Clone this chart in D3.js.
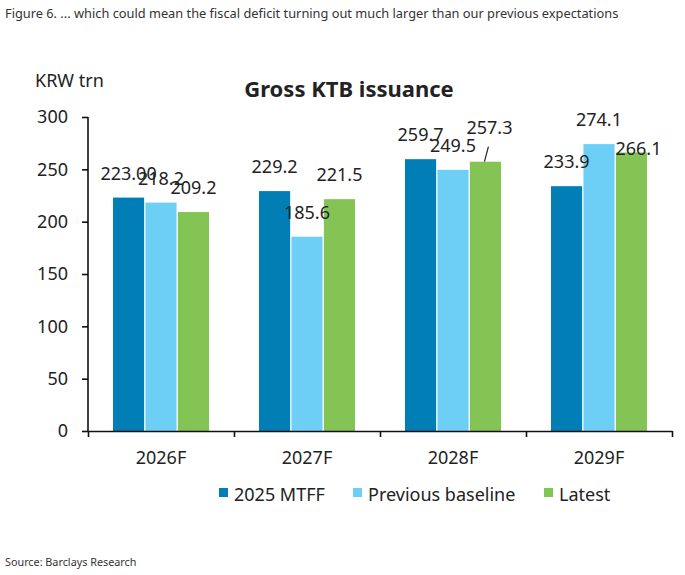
<!DOCTYPE html>
<html>
<head>
<meta charset="utf-8">
<script src="https://cdn.jsdelivr.net/npm/d3@7"></script>
<style>
  body { margin: 0; background: #fff; }
  svg text { font-family: "Noto Sans", "Open Sans", sans-serif; fill: #222; }
</style>
</head>
<body>
<div id="chart"></div>
<script>
// data
const years = ["2026F", "2027F", "2028F", "2029F"];
const seriesNames = ["2025 MTFF", "Previous baseline", "Latest"];
const mtff = [223.0, 229.2, 259.7, 233.9];
const baseline = [218.2, 185.6, 249.5, 274.1];
const latest = [209.2, 221.5, 257.3, 266.1];
const labelText = [
    ["223.00", "229.2", "259.7", "233.9"],
    ["218.2", "185.6", "249.5", "274.1"],
    ["209.2", "221.5", "257.3", "266.1"]
];
const yTicks = [0, 50, 100, 150, 200, 250, 300];

const colors = ["#007eb5", "#6dcff6", "#84c455"];

const series = [mtff, baseline, latest];
const rows = [];
series.forEach(function(vals, s) {
    vals.forEach(function(v, i) {
        rows.push({ year: years[i], s: s, value: v, label: labelText[s][i] });
    });
});

// a few labels were moved by hand in the original (they overlap there too)
const nudge = {
    "2-2": { dx: 4, dy: -28, leader: true },
    "2-3": { dx: 7, dy: 3 }
};

const W = 685, H = 575;
const svg = d3.select("#chart").append("svg")
    .attr("width", W)
    .attr("height", H);

const x = d3.scaleBand()
    .domain(years)
    .range([88, 672])
    .padding(0);

const xSub = d3.scaleBand()
    .domain([0, 1, 2])
    .range([25, 121])
    .paddingInner(0.04);

const y = d3.scaleLinear()
    .domain([0, 300])
    .range([431, 117]);

// caption
svg.append("text")
    .attr("x", 5)
    .attr("y", 18)
    .style("font-size", "12.8px")
    .style("fill", "#333")
    .text("Figure 6. ... which could mean the fiscal deficit  turning out much larger than our previous expectations");

// y axis
const yAxis = svg.append("g")
    .attr("transform", "translate(88,0)")
    .call(d3.axisLeft(y).tickValues(yTicks).tickSize(6).tickPadding(14));
yAxis.select(".domain").attr("stroke", "#111").attr("stroke-width", 1.6).attr("d", "M0," + y(300) + "V" + y(0));
yAxis.selectAll(".tick line").attr("stroke", "#111").attr("stroke-width", 1.6);
yAxis.selectAll(".tick text").style("font-size", "18px").style("fill", "#222");

svg.append("text")
    .attr("x", 35)
    .attr("y", 87)
    .style("font-size", "18px")
    .text("KRW trn");

// title
svg.append("text")
    .attr("x", 349)
    .attr("y", 97)
    .attr("text-anchor", "middle")
    .style("font-size", "22px")
    .style("font-weight", "bold")
    .text("Gross KTB issuance");

// bars
svg.selectAll(".bar")
    .data(rows)
    .enter()
    .append("rect")
    .attr("class", "bar")
    .attr("x", function(d) { return x(d.year) + xSub(d.s); })
    .attr("y", function(d) { return y(d.value); })
    .attr("width", xSub.bandwidth())
    .attr("height", function(d) { return y(0) - y(d.value); })
    .style("fill", function(d) { return colors[d.s]; });

// value labels
svg.selectAll(".lbl")
    .data(rows)
    .enter()
    .append("text")
    .attr("class", "lbl")
    .attr("text-anchor", "middle")
    .attr("x", function(d) {
        const n = nudge[d.s + "-" + years.indexOf(d.year)];
        return x(d.year) + xSub(d.s) + xSub.bandwidth() / 2 + (n ? n.dx : 0);
    })
    .attr("y", function(d) {
        const n = nudge[d.s + "-" + years.indexOf(d.year)];
        return y(d.value) + (n ? n.dy : -18);
    })
    .style("font-size", "18px")
    .text(function(d) { return d.label; });

// leader line for the moved label
rows.forEach(function(d) {
    const n = nudge[d.s + "-" + years.indexOf(d.year)];
    if (n && n.leader) {
        const cx = x(d.year) + xSub(d.s) + xSub.bandwidth() / 2;
        svg.append("line")
            .attr("x1", cx - 1)
            .attr("y1", y(d.value))
            .attr("x2", cx + 3)
            .attr("y2", y(d.value) - 15)
            .attr("stroke", "#222")
            .attr("stroke-width", 1.2);
    }
});

// x axis
const xAxis = svg.append("g")
    .attr("transform", "translate(0,431)")
    .call(d3.axisBottom(x).tickSize(0).tickPadding(20));
xAxis.select(".domain").attr("stroke", "#111").attr("stroke-width", 1.6);
xAxis.selectAll(".tick text").style("font-size", "18px").style("fill", "#222");

const xEdges = d3.scaleLinear().domain([0, 4]).range([88, 672]);
svg.append("g")
    .attr("transform", "translate(0,431)")
    .call(d3.axisBottom(xEdges).ticks(4).tickSize(6).tickFormat(""))
    .call(function(g) { g.select(".domain").remove(); })
    .selectAll(".tick line").attr("stroke", "#111").attr("stroke-width", 1.6);

// legend
const legendX = [219, 353, 544];
const legend = svg.selectAll(".leg")
    .data(seriesNames)
    .enter()
    .append("g")
    .attr("class", "leg")
    .attr("transform", function(d, i) { return "translate(" + legendX[i] + ",488)"; });
legend.append("rect")
    .attr("width", 9)
    .attr("height", 9)
    .style("fill", function(d, i) { return colors[i]; });
legend.append("text")
    .attr("x", 15)
    .attr("y", 13)
    .style("font-size", "18px")
    .text(function(d) { return d; });

// source
svg.append("text")
    .attr("x", 5)
    .attr("y", 566)
    .style("font-size", "10.8px")
    .style("fill", "#333")
    .text("Source: Barclays Research");
</script>
</body>
</html>
